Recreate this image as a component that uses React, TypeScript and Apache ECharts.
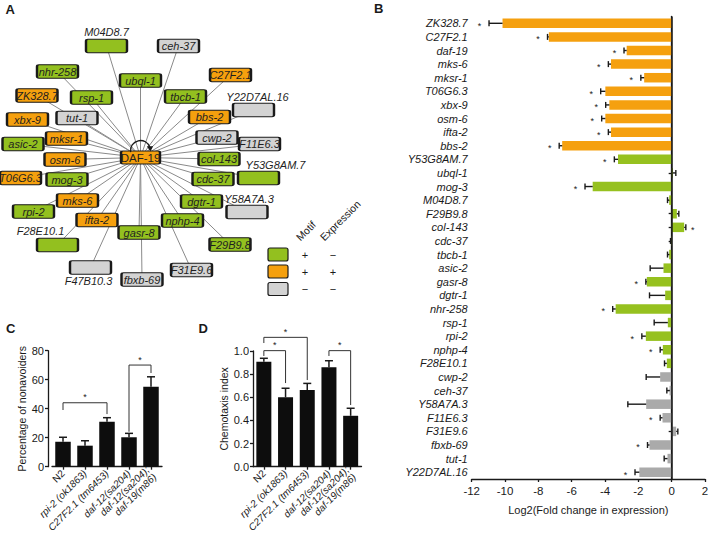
import React, { useEffect, useRef } from "react";
import * as echarts from "echarts";

// ---------------- Panel A: DAF-19 network ----------------
const nodeNames = [
  "M04D8.7", "ceh-37", "nhr-258", "ubql-1", "ZK328.7", "rsp-1", "tbcb-1", "C27F2.1",
  "tut-1", "xbx-9", "Y22D7AL.16", "bbs-2", "mksr-1", "asic-2", "cwp-2", "F11E6.3",
  "osm-6", "DAF-19", "col-143", "T06G6.3", "mog-3", "cdc-37", "Y53G8AM.7", "mks-6",
  "dgtr-1", "rpi-2", "ifta-2", "nphp-4", "Y58A7A.3", "gasr-8", "F28E10.1", "F29B9.8",
  "F47B10.3", "F31E9.6", "fbxb-69",
];
const nodeX = [
  106.5, 178.5, 57.5, 140.5, 37, 91.5, 185.5, 230.5,
  77, 27.5, 253.5, 209.5, 66.5, 23, 217, 259.5,
  65, 140.5, 219, 20.5, 67, 213, 258.5, 77.5,
  201.5, 33.5, 97, 182.5, 247, 139, 57.5, 230,
  90.5, 191.5, 142,
];
const nodeY = [
  46, 46, 71.5, 80.5, 95.5, 97.5, 96.5, 75,
  118, 119.5, 110, 117, 138.5, 144, 137.5, 144,
  159.5, 157.5, 159, 178, 179.5, 179, 178, 200.5,
  201.5, 211.5, 220, 220.5, 212, 232.5, 245, 244.5,
  267.5, 270, 279.5,
];
// g = motif + / expression -, o = motif + / expression +, n = motif - / expression -
const nodeClass = [
  "g", "n", "g", "g", "o", "g", "g", "o",
  "n", "o", "n", "o", "o", "g", "n", "n",
  "o", "o", "g", "o", "g", "g", "g", "o",
  "g", "g", "o", "g", "n", "g", "g", "g",
  "n", "n", "n",
];
const hubName = "DAF-19";

// ---------------- Panel B: log2 fold change ----------------
const genes = [
  "ZK328.7", "C27F2.1", "daf-19", "mks-6", "mksr-1", "T06G6.3", "xbx-9", "osm-6",
  "ifta-2", "bbs-2", "Y53G8AM.7", "ubql-1", "mog-3", "M04D8.7", "F29B9.8", "col-143",
  "cdc-37", "tbcb-1", "asic-2", "gasr-8", "dgtr-1", "nhr-258", "rsp-1", "rpi-2",
  "nphp-4", "F28E10.1", "cwp-2", "ceh-37", "Y58A7A.3", "F11E6.3", "F31E9.6", "fbxb-69",
  "tut-1", "Y22D7AL.16",
];
const log2fc = [
  -10.15, -7.37, -2.7, -3.64, -1.65, -3.98, -3.74, -3.98,
  -3.64, -6.57, -3.22, 0.08, -4.74, -0.15, 0.31, 0.75,
  -0.03, -0.15, -0.49, -1.49, -0.39, -3.36, -0.23, -1.55,
  -0.53, -0.29, -0.69, -0.13, -1.53, -0.55, 0.27, -1.33,
  -0.25, -1.94,
];
const log2errEnd = [
  -10.96, -7.45, -2.86, -3.8, -1.85, -4.26, -3.96, -4.2,
  -3.8, -6.75, -3.44, 0.25, -5.2, -0.25, 0.43, 0.85,
  -0.07, -0.25, -1.29, -1.55, -1.33, -3.54, -1.05, -1.79,
  -0.69, -0.43, -1.53, -0.29, -2.63, -0.69, 0.37, -1.45,
  -0.45, -2.2,
];
const geneClass = [
  "o", "o", "o", "o", "o", "o", "o", "o",
  "o", "o", "g", "g", "g", "g", "g", "g",
  "g", "g", "g", "g", "g", "g", "g", "g",
  "g", "g", "n", "n", "n", "n", "n", "n",
  "n", "n",
];
const geneStar = [
  1, 1, 1, 1, 1, 1, 1, 1,
  1, 1, 1, 0, 1, 0, 0, 1,
  0, 0, 0, 1, 0, 1, 0, 1,
  1, 0, 0, 0, 0, 1, 0, 1,
  0, 1,
];
const bTicks = { min: -12, max: 2, interval: 2 };

// ---------------- Panels C & D ----------------
const strains = ["N2", "rpi-2 (ok1863)", "C27F2.1 (tm6453)", "daf-12(sa204)", "daf-12(sa204);\ndaf-19(m86)"];
const nonavoiders = [17.2, 14.5, 31.0, 20.3, 55.2];
const nonavoidersErr = [20.3, 17.9, 33.8, 23.0, 62.0];
const chemotaxis = [0.907, 0.6, 0.663, 0.859, 0.44];
const chemotaxisErr = [0.937, 0.678, 0.72, 0.916, 0.505];
// [from index, to index, bar height, left leg end, right leg end]
const bracketsC = [
  [0, 2, 44.1, 39.1, 36.3],
  [3, 4, 70.1, 24.1, 64.6],
];
const bracketsD = [
  [0, 1, 1.003, 0.957, 0.723],
  [0, 2, 1.118, 1.069, 0.749],
  [3, 4, 1.003, 0.957, 0.533],
];

// ---------------- styles ----------------
const FONT = "'Liberation Sans', Arial, Helvetica, sans-serif";
const NODE_COLORS: Record<string, string> = { g: "#93C01F", o: "#F5A00E", n: "#D3D3D3" };
const BAR_COLORS: Record<string, string> = { g: "#96C11F", o: "#F5A00F", n: "#AAAAAA" };
const INK = "#1a1a1a";
const BOX_PATH = "path://M2,0 H39 Q41,0 41,2 V11.5 Q41,13.5 39,13.5 H2 Q0,13.5 0,11.5 V2 Q0,0 2,0 Z";

const outsideLabel: Record<string, { position: string; offset: [number, number] }> = {
  "M04D8.7": { position: "top", offset: [0, 0] },
  "Y22D7AL.16": { position: "top", offset: [4, 1] },
  "Y53G8AM.7": { position: "top", offset: [17, 1] },
  "Y58A7A.3": { position: "top", offset: [2, 1] },
  "F28E10.1": { position: "top", offset: [-17, 0] },
  "F47B10.3": { position: "bottom", offset: [-2, 0] },
};

function txt(x: number, y: number, text: string, extra: any = {}) {
  const st: any = {
    text,
    fill: INK,
    fontSize: 11,
    fontFamily: FONT,
    align: "center",
    verticalAlign: "middle",
    textAlign: "center",
    textVerticalAlign: "middle",
    ...(extra.style || {}),
  };
  const { style, ...rest } = extra;
  return { type: "text", x, y, style: st, z: 100, silent: true, ...rest };
}

function buildOption(): any {
  const axisLineStyle = { color: INK, width: 1.3 };

  const graphData = nodeNames.map((name, i) => {
    const ol = outsideLabel[name];
    const isHub = name === hubName;
    return {
      name,
      value: [nodeX[i], nodeY[i]],
      symbol: BOX_PATH,
      symbolKeepAspect: false,
      symbolSize: isHub ? [39, 13] : [41, 13.5],
      itemStyle: { color: NODE_COLORS[nodeClass[i]], borderColor: INK, borderWidth: 1.4 },
      label: {
        show: true,
        position: ol ? ol.position : "inside",
        offset: ol ? ol.offset : [0, 0],
        distance: 1,
        fontStyle: isHub ? "normal" : "italic",
        fontSize: isHub ? 11.5 : 11,
        color: "#1f1f1f",
        fontFamily: FONT,
      },
    };
  });
  const graphLinks = nodeNames
    .filter((n) => n !== hubName)
    .map((n) => ({ source: hubName, target: n }));

  const legendRows = [
    { c: NODE_COLORS.g, m: "+", e: "\u2212", y: 254.5 },
    { c: NODE_COLORS.o, m: "+", e: "+", y: 271.5 },
    { c: NODE_COLORS.n, m: "\u2212", e: "\u2212", y: 289 },
  ];
  const graphics: any[] = [];
  legendRows.forEach((r) => {
    graphics.push({
      type: "rect",
      shape: { x: 268, y: r.y - 6.5, width: 20, height: 13, r: 2 },
      style: { fill: r.c, stroke: INK, lineWidth: 1.2 },
      z: 100,
      silent: true,
    });
    graphics.push(txt(305, r.y, r.m, { style: { fontSize: 11 } }));
    graphics.push(txt(333, r.y, r.e, { style: { fontSize: 11 } }));
  });
  graphics.push(
    txt(302, 243, "Motif", {
      rotation: Math.PI / 4,
      style: { align: "left", verticalAlign: "bottom", textAlign: "left", textVerticalAlign: "bottom", fontSize: 10.5 },
    })
  );
  graphics.push(
    txt(326, 243, "Expression", {
      rotation: Math.PI / 4,
      style: { align: "left", verticalAlign: "bottom", textAlign: "left", textVerticalAlign: "bottom", fontSize: 10.5 },
    })
  );
  // self-loop of DAF-19
  graphics.push({
    type: "arc",
    shape: { cx: 140.5, cy: 150.5, r: 10, startAngle: Math.PI * 0.95, endAngle: Math.PI * 1.9, clockwise: true },
    style: { stroke: INK, lineWidth: 1.3, fill: null },
    z: 100,
    silent: true,
  });
  graphics.push({
    type: "polygon",
    shape: { points: [[146.8, 146.2], [153.2, 146.2], [150.4, 151.4]] },
    style: { fill: INK },
    z: 100,
    silent: true,
  });
  // panel letters
  const letterStyle = { style: { fontWeight: "bold", fontSize: 13, align: "left", textAlign: "left" } };
  graphics.push(txt(5.5, 9, "A", letterStyle));
  graphics.push(txt(374, 8, "B", letterStyle));
  graphics.push(txt(6, 328.5, "C", letterStyle));
  graphics.push(txt(198.5, 328.5, "D", letterStyle));

  const catLabelC = {
    rotate: 45,
    fontSize: 10,
    fontStyle: "italic",
    color: INK,
    fontFamily: FONT,
    margin: 5,
    interval: 0,
    formatter: (v: string) => (v === "N2" ? "{n|N2}" : v),
    rich: { n: { fontStyle: "normal", fontSize: 10, fontFamily: FONT, color: INK } },
  };

  const errRender = (params: any, api: any) => {
    const i = api.value(0);
    const p0 = api.coord([i, api.value(1)]);
    const p1 = api.coord([i, api.value(2)]);
    return {
      type: "group",
      children: [
        { type: "line", shape: { x1: p0[0], y1: p0[1], x2: p1[0], y2: p1[1] }, style: { stroke: INK, lineWidth: 1.5 } },
        { type: "line", shape: { x1: p1[0] - 4, y1: p1[1], x2: p1[0] + 4, y2: p1[1] }, style: { stroke: INK, lineWidth: 1.5 } },
      ],
    };
  };
  const bracketRender = (params: any, api: any) => {
    const a = api.coord([api.value(0), api.value(2)]);
    const b = api.coord([api.value(1), api.value(2)]);
    const l1 = api.coord([api.value(0), api.value(3)]);
    const l2 = api.coord([api.value(1), api.value(4)]);
    return {
      type: "group",
      children: [
        {
          type: "polyline",
          shape: { points: [[a[0], l1[1]], [a[0], a[1]], [b[0], b[1]], [b[0], l2[1]]] },
          style: { stroke: "#333", lineWidth: 1, fill: null },
        },
        {
          type: "text",
          x: (a[0] + b[0]) / 2,
          y: a[1] - 1,
          style: { text: "*", fontSize: 9, fontFamily: FONT, fill: INK, align: "center", verticalAlign: "bottom" },
        },
      ],
    };
  };

  return {
    animation: false,
    backgroundColor: "#ffffff",
    textStyle: { fontFamily: FONT },
    graphic: { elements: graphics },
    grid: [
      { left: 471.7, top: 16.5, width: 233.3, height: 462.5, outerBoundsMode: "none", containLabel: false },
      { left: 52, top: 350.7, width: 110, height: 116, outerBoundsMode: "none", containLabel: false },
      { left: 253, top: 351, width: 108.5, height: 115.7, outerBoundsMode: "none", containLabel: false },
      { left: 0, top: 0, width: 709, height: 542, outerBoundsMode: "none", containLabel: false },
    ],
    xAxis: [
      {
        type: "value",
        gridIndex: 0,
        min: bTicks.min,
        max: bTicks.max,
        interval: bTicks.interval,
        axisLine: { show: true, onZero: false, lineStyle: axisLineStyle },
        axisTick: { show: true, length: 3, lineStyle: axisLineStyle },
        axisLabel: { fontSize: 11.5, color: INK, margin: 6, fontFamily: FONT },
        splitLine: { show: false },
        name: "Log2(Fold change in expression)",
        nameLocation: "middle",
        nameGap: 25,
        nameTextStyle: { fontSize: 11, color: INK, fontFamily: FONT },
      },
      {
        type: "category",
        gridIndex: 1,
        data: strains,
        axisLine: { show: true, lineStyle: axisLineStyle },
        axisTick: { show: true, length: 3, alignWithLabel: true, lineStyle: axisLineStyle },
        axisLabel: catLabelC,
      },
      {
        type: "category",
        gridIndex: 2,
        data: strains,
        axisLine: { show: true, lineStyle: axisLineStyle },
        axisTick: { show: true, length: 3, alignWithLabel: true, lineStyle: axisLineStyle },
        axisLabel: catLabelC,
      },
      { type: "value", gridIndex: 3, min: 0, max: 709, show: false },
    ],
    yAxis: [
      {
        type: "category",
        gridIndex: 0,
        data: genes,
        inverse: true,
        axisLine: { show: true, lineStyle: axisLineStyle },
        axisTick: { show: true, length: 3, alignWithLabel: true, lineStyle: axisLineStyle },
        axisLabel: { fontSize: 11, fontStyle: "italic", color: INK, margin: 4, interval: 0, fontFamily: FONT },
      },
      {
        type: "value",
        gridIndex: 1,
        min: 0,
        max: 80,
        interval: 20,
        offset: 4,
        axisLine: { show: true, lineStyle: axisLineStyle },
        axisTick: { show: true, length: 3, lineStyle: axisLineStyle },
        axisLabel: { fontSize: 11, color: INK, margin: 4, fontFamily: FONT },
        splitLine: { show: false },
        name: "Percentage of nonavoiders",
        nameLocation: "middle",
        nameGap: 20,
        nameTextStyle: { fontSize: 10.5, color: INK, fontFamily: FONT },
      },
      {
        type: "value",
        gridIndex: 2,
        min: 0,
        max: 1,
        interval: 0.2,
        axisLine: { show: true, lineStyle: axisLineStyle },
        axisTick: { show: true, length: 3, lineStyle: axisLineStyle },
        axisLabel: { fontSize: 11, color: INK, margin: 4, fontFamily: FONT, formatter: (v: number) => v.toFixed(1) },
        splitLine: { show: false },
        name: "Chemotaxis index",
        nameLocation: "middle",
        nameGap: 24,
        nameTextStyle: { fontSize: 10.5, color: INK, fontFamily: FONT },
      },
      { type: "value", gridIndex: 3, min: 0, max: 542, inverse: true, show: false },
    ],
    series: [
      {
        type: "bar",
        xAxisIndex: 0,
        yAxisIndex: 0,
        barWidth: 9.5,
        silent: true,
        data: log2fc.map((v, i) => ({ value: v, itemStyle: { color: BAR_COLORS[geneClass[i]] } })),
        markLine: {
          silent: true,
          symbol: ["none", "none"],
          label: { show: false },
          lineStyle: { color: INK, width: 1.5, type: "solid" },
          data: [{ xAxis: 0 }],
        },
        z: 2,
      },
      {
        type: "custom",
        xAxisIndex: 0,
        yAxisIndex: 0,
        silent: true,
        data: genes.map((g, i) => [log2fc[i], log2errEnd[i], geneStar[i], i]),
        encode: { x: [0, 1], y: 3 },
        renderItem: (params: any, api: any) => {
          const v = api.value(0);
          const e = api.value(1);
          const s = api.value(2);
          const idx = api.value(3);
          const p0 = api.coord([v, idx]);
          const p1 = api.coord([e, idx]);
          const children: any[] = [
            { type: "line", shape: { x1: p0[0], y1: p0[1], x2: p1[0], y2: p1[1] }, style: { stroke: INK, lineWidth: 1.4 } },
            { type: "line", shape: { x1: p1[0], y1: p1[1] - 3, x2: p1[0], y2: p1[1] + 3 }, style: { stroke: INK, lineWidth: 1.4 } },
          ];
          if (s) {
            children.push({
              type: "text",
              x: p1[0] + (e < 0 ? -9.5 : 7),
              y: p1[1] + 2.5,
              style: { text: "*", fontSize: 9, fontFamily: FONT, fill: INK, align: "center", verticalAlign: "middle" },
            });
          }
          return { type: "group", children };
        },
        z: 3,
      },
      {
        type: "bar",
        xAxisIndex: 1,
        yAxisIndex: 1,
        barWidth: 15.5,
        silent: true,
        itemStyle: { color: "#0d0d0d" },
        data: nonavoiders,
      },
      {
        type: "custom",
        xAxisIndex: 1,
        yAxisIndex: 1,
        silent: true,
        data: nonavoiders.map((v, i) => [i, v, nonavoidersErr[i]]),
        encode: { x: 0, y: [1, 2] },
        renderItem: errRender,
      },
      {
        type: "custom",
        xAxisIndex: 1,
        yAxisIndex: 1,
        silent: true,
        data: bracketsC,
        encode: { x: [0, 1], y: [2, 3, 4] },
        renderItem: bracketRender,
      },
      {
        type: "bar",
        xAxisIndex: 2,
        yAxisIndex: 2,
        barWidth: 15,
        silent: true,
        itemStyle: { color: "#0d0d0d" },
        data: chemotaxis,
      },
      {
        type: "custom",
        xAxisIndex: 2,
        yAxisIndex: 2,
        silent: true,
        data: chemotaxis.map((v, i) => [i, v, chemotaxisErr[i]]),
        encode: { x: 0, y: [1, 2] },
        renderItem: errRender,
      },
      {
        type: "custom",
        xAxisIndex: 2,
        yAxisIndex: 2,
        silent: true,
        data: bracketsD,
        encode: { x: [0, 1], y: [2, 3, 4] },
        renderItem: bracketRender,
      },
      {
        type: "graph",
        coordinateSystem: "cartesian2d",
        xAxisIndex: 3,
        yAxisIndex: 3,
        layout: "none",
        silent: true,
        roam: false,
        data: graphData,
        links: graphLinks,
        edgeSymbol: ["none", "none"],
        lineStyle: { color: "#8a8a8a", width: 1, opacity: 1, curveness: 0 },
        emphasis: { disabled: true },
        z: 5,
      },
    ],
  };
}

export default function App() {
  const ref = useRef<HTMLDivElement>(null);
  useEffect(() => {
    if (!ref.current) return;
    const chart = echarts.init(ref.current, undefined, { renderer: "svg" });
    chart.setOption(buildOption());
    return () => chart.dispose();
  }, []);
  return (
    <div
      ref={ref}
      style={{ position: "fixed", left: 0, top: 0, width: 709, height: 542, background: "#fff" }}
    />
  );
}
